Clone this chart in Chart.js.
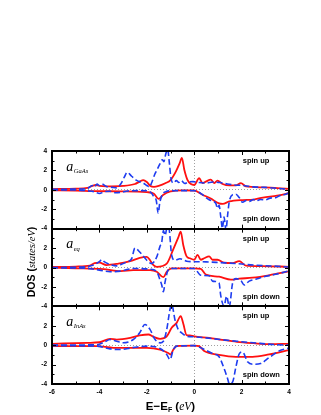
<!DOCTYPE html>
<html><head><meta charset="utf-8">
<script src="https://cdn.jsdelivr.net/npm/chart.js@4"></script>
<style>html,body{margin:0;padding:0;background:#fff}canvas{display:block}</style>
</head><body>
<canvas id="c" width="321" height="415"></canvas>
<script>
// ---------- data (energy in eV, DOS in states/eV) ----------
const xTickValues = [-6, -4, -2, 0, 2, 4];
const yTickValues = [-4, -2, 0, 2, 4];
const panelNames = ['GaAs', 'eq', 'InAs'];
const spinLabels = ['spin up', 'spin down'];

// panel 1: a_GaAs
const gaasBlueUpE = [-6,-5,-4.5,-4.3,-4.2,-4.1,-4,-3.9,-3.7,-3.45,-3.27,-3.1,-2.95,-2.83,-2.64,-2.43,-2.15,-2,-1.88,-1.8,-1.68,-1.58,-1.44,-1.35,-1.28,-1.2,-1.12,-1.05,-0.98,-0.88,-0.75,-0.65,-0.55,-0.4,-0.25,-0.05,0.2,0.5,0.8,1.1,1.4,1.7,2.05,2.5,3,3.5,4];
const gaasBlueUpV = [0.05,0.08,0.15,0.45,0.3,0.6,0.45,0.6,0.35,0.25,0.2,0.6,1.3,1.8,1.4,0.97,0.7,0.45,0.3,0.7,1.5,2.0,2.7,3.1,2.9,3.7,4.2,2.8,1.2,0.7,0.95,0.75,0.95,0.65,0.8,0.85,0.75,0.7,0.8,0.75,0.6,0.5,0.45,0.3,0.25,0.15,0.05];
const gaasBlueDnE = [-6,-5,-4.5,-4.2,-4,-3.8,-3.55,-3.3,-3.1,-2.8,-2.3,-2,-1.8,-1.68,-1.6,-1.52,-1.45,-1.35,-1.2,-1,-0.5,0,0.2,0.35,0.63,0.91,0.98,1.05,1.12,1.19,1.26,1.34,1.41,1.48,1.62,1.76,1.9,2.04,2.2,2.32,2.5,2.6,2.8,3,3.2,3.44,3.6,3.87,4];
const gaasBlueDnV = [0,-0.02,-0.1,-0.2,-0.38,-0.2,-0.15,-0.3,-0.25,-0.12,-0.08,-0.1,-0.35,-0.8,-1.1,-2.4,-1.3,-0.5,-0.2,-0.1,-0.08,-0.1,-0.25,-0.5,-1.03,-1.38,-1.9,-1.6,-2.76,-3.96,-2.8,-4.15,-2.6,-1.2,-0.5,-0.45,-0.8,-1.28,-1.1,-1.2,-1.0,-1.15,-1.0,-1.03,-0.85,-0.8,-0.6,-0.45,-0.3];
const gaasRedUpE = [-6,-5,-4.5,-4.3,-4.15,-4,-3.7,-3,-2.5,-2.3,-2.15,-2,-1.85,-1.7,-1.5,-1.2,-1,-0.77,-0.62,-0.52,-0.42,-0.28,-0.14,0,0.21,0.35,0.49,0.7,0.84,0.98,1.2,1.48,1.76,1.97,2.18,2.9,4];
const gaasRedUpV = [0.08,0.12,0.2,0.4,0.5,0.4,0.35,0.4,0.6,0.85,1.0,0.8,0.4,0.3,0.4,0.7,1.0,1.9,2.7,3.3,2.1,1.0,0.6,0.5,1.2,0.7,0.85,1.05,0.7,0.95,0.6,0.45,0.45,0.7,0.35,0.25,0.1];
const gaasRedDnE = [-6,-5,-4.1,-3.1,-2,-1.7,-1.5,-1.3,-1,-0.5,0,0.35,0.7,1.05,1.2,1.48,2.04,2.5,2.9,3.5,4];
const gaasRedDnV = [-0.05,-0.08,-0.14,-0.15,-0.24,-0.4,-0.93,-0.5,-0.17,-0.05,-0.07,-0.5,-0.9,-1.4,-1.45,-1.2,-1.05,-1.0,-0.8,-0.6,-0.35];

// panel 2: a_eq
const eqBlueUpE = [-6,-5,-4.5,-4.25,-4,-3.9,-3.8,-3.55,-3.27,-3,-2.85,-2.64,-2.5,-2.3,-2,-1.8,-1.58,-1.44,-1.37,-1.3,-1.23,-1.16,-1.08,-0.95,-0.81,-0.6,-0.32,0,0.5,1.1,1.8,2.5,3.3,4];
const eqBlueUpV = [0,0.03,0.1,0.25,0.6,0.82,0.6,0.3,0.17,0.4,0.58,0.9,2.0,1.6,0.75,0.4,1.1,2.2,2.6,3.8,3.3,4.0,4.2,1.26,0.75,0.9,0.65,0.6,0.58,0.5,0.4,0.25,0.15,0.05];
const eqBlueDnE = [-6,-5,-4.5,-4,-3.55,-3.1,-2.57,-1.86,-1.58,-1.44,-1.37,-1.3,-1.23,-1.1,-0.9,0,0.28,0.63,0.77,1.05,1.12,1.26,1.37,1.48,1.62,1.76,1.97,2.11,2.32,2.6,3.02,3.44,4];
const eqBlueDnV = [-0.02,-0.05,-0.1,-0.27,-0.44,-0.37,-0.1,-0.17,-0.44,-1.3,-1.8,-2.5,-1.5,-0.27,-0.1,-0.1,-0.8,-0.85,-1.4,-1.6,-2.9,-3.95,-2.95,-4.05,-1.6,-1.15,-1.35,-1.8,-1.4,-1.2,-0.9,-0.7,-0.35];
const eqRedUpE = [-6,-5,-4.4,-4.2,-4,-3.7,-3.2,-2.7,-2.3,-2,-1.85,-1.72,-1.58,-1.16,-0.88,-0.67,-0.57,-0.46,-0.32,-0.18,0,0.14,0.28,0.42,0.63,0.77,0.98,1.26,1.62,1.9,2.18,2.88,4];
const eqRedUpV = [0.05,0.1,0.2,0.45,0.5,0.25,0.4,0.65,1.0,1.1,0.7,0.25,0.07,0.4,1.9,3.1,3.7,2.3,1.15,0.95,0.8,1.3,0.8,0.95,1.15,0.8,0.8,0.5,0.45,0.65,0.2,0.15,0.07];
const eqRedDnE = [-6,-5,-3.83,-3.1,-2.57,-1.86,-1.58,-1.3,-1.16,-0.95,0,0.28,0.49,1.05,1.55,1.9,2.46,3.16,4];
const eqRedDnV = [-0.03,-0.08,-0.17,-0.37,-0.27,-0.27,-0.44,-1.0,-0.45,-0.1,-0.1,-0.15,-0.72,-0.95,-1.25,-1.15,-1.05,-0.8,-0.4];

// panel 3: a_InAs
const inasBlueUpE = [-6,-4.1,-3.8,-3.55,-3.27,-3,-2.57,-2.3,-2.08,-1.86,-1.65,-1.44,-1.3,-1.16,-1.02,-0.95,-0.81,-0.67,-0.53,-0.32,0,0.5,1.1,1.8,2.5,3.34,4];
const inasBlueUpV = [0,0.05,0.3,0.58,0.4,0.25,0.58,1.27,2.13,1.6,0.58,0.24,0.4,1.6,3.7,4.2,2.6,1.6,1.27,0.93,0.86,0.75,0.58,0.4,0.25,0.07,0];
const inasBlueDnE = [-6,-4.1,-3.55,-3.1,-2.6,-2,-1.44,-1.16,-1.02,-0.88,-0.74,0,0.35,0.77,1.05,1.26,1.41,1.48,1.62,1.76,1.9,2.04,2.25,2.53,2.8,3.16,3.58,4];
const inasBlueDnV = [-0.05,-0.1,-0.38,-0.45,-0.25,-0.1,-0.35,-0.95,-1.48,-0.45,-0.1,-0.05,-0.35,-0.86,-1.2,-2.4,-3.45,-3.97,-3.8,-2.24,-0.9,-0.7,-1.7,-1.97,-1.9,-1.28,-0.6,-0.3];
const inasRedUpE = [-6,-4.5,-4,-3.55,-3.27,-2.7,-2.3,-1.93,-1.72,-1.44,-1.16,-0.95,-0.74,-0.57,-0.46,-0.32,-0.18,0,0.63,1.1,1.8,2.5,3.2,4];
const inasRedUpV = [0.14,0.24,0.3,0.65,0.58,0.75,1.0,1.1,0.86,0.65,0.9,1.8,2.3,3.0,2.2,1.03,1.0,0.9,0.75,0.58,0.34,0.2,0.1,0.14];
const inasRedDnE = [-6,-4.1,-3.4,-2,-1.44,-1.1,-1,-0.88,-0.74,0,0.21,0.42,1.05,1.76,2.46,3.16,4];
const inasRedDnV = [-0.1,-0.1,-0.27,-0.27,-0.45,-0.8,-0.96,-0.45,-0.1,-0.05,-0.1,-0.6,-1.0,-1.2,-1.2,-0.95,-0.5];

// ---------- build ----------
const BLUE = '#1e3cf0', RED = '#ff1010';
const pts = (E, V) => E.map((e, i) => ({x: e, y: V[i]}));
const axisIds = ['yTop', 'yMid', 'yBot'];
const series = [
  [gaasBlueUpE, gaasBlueUpV, 'blue', 0], [gaasBlueDnE, gaasBlueDnV, 'blue', 0],
  [gaasRedUpE, gaasRedUpV, 'red', 0], [gaasRedDnE, gaasRedDnV, 'red', 0],
  [eqBlueUpE, eqBlueUpV, 'blue', 1], [eqBlueDnE, eqBlueDnV, 'blue', 1],
  [eqRedUpE, eqRedUpV, 'red', 1], [eqRedDnE, eqRedDnV, 'red', 1],
  [inasBlueUpE, inasBlueUpV, 'blue', 2], [inasBlueDnE, inasBlueDnV, 'blue', 2],
  [inasRedUpE, inasRedUpV, 'red', 2], [inasRedDnE, inasRedDnV, 'red', 2]
];
const datasets = series.map(([E, V, col, p]) => ({
  data: pts(E, V),
  yAxisID: axisIds[p],
  borderColor: col === 'blue' ? BLUE : RED,
  borderWidth: col === 'blue' ? 1.6 : 1.8,
  borderDash: col === 'blue' ? [6, 3] : [],
  pointRadius: 0,
  cubicInterpolationMode: 'monotone',
  fill: false
}));

const tickFont = {family: 'Liberation Sans, Arial, sans-serif', size: 6.5, weight: 'bold'};
const fmt = v => (v < 0 ? '-' : '') + Math.abs(v);

function yAxis(idx) {
  return {
    type: 'linear', position: 'left', stack: 'dos', stackWeight: 1,
    min: -4, max: 4,
    afterBuildTicks: s => { s.ticks = yTickValues.map(v => ({value: v})); },
    afterFit: s => { s.width = 52; },
    ticks: {
      font: tickFont, color: '#000', padding: 5,
      callback: v => (idx > 0 && v === 4) ? '' : fmt(v)
    },
    grid: {
      drawTicks: false, lineWidth: 1,
      color: c => (c.tick && c.tick.value === 0) ? '#a0a0a0' : 'rgba(0,0,0,0)'
    },
    border: {display: false, dash: [1, 2]}
  };
}

const framePlugin = {
  id: 'frame',
  afterDatasetsDraw(chart) {
    const ctx = chart.ctx, xs = chart.scales.x, ca = chart.chartArea;
    ctx.save();
    ctx.strokeStyle = '#000';
    axisIds.forEach(id => {
      const s = chart.scales[id];
      const top = s.getPixelForValue(4), bot = s.getPixelForValue(-4);
      ctx.lineWidth = 1;
      for (let v = -4; v <= 4; v++) {
        const py = Math.round(s.getPixelForValue(v)) + 0.5;
        const len = v % 2 === 0 ? 4 : 2.5;
        ctx.beginPath();
        ctx.moveTo(ca.left, py); ctx.lineTo(ca.left + len, py);
        ctx.moveTo(ca.right, py); ctx.lineTo(ca.right - len, py);
        ctx.stroke();
      }
      for (let e = -6; e <= 4; e++) {
        const px = Math.round(xs.getPixelForValue(e)) + 0.5;
        const len = e % 2 === 0 ? 4 : 2.5;
        ctx.beginPath();
        ctx.moveTo(px, top); ctx.lineTo(px, top + len);
        ctx.moveTo(px, bot); ctx.lineTo(px, bot - len);
        ctx.stroke();
      }
      ctx.lineWidth = 2;
      ctx.strokeRect(ca.left, Math.round(top), ca.right - ca.left, Math.round(bot) - Math.round(top));
    });
    ctx.restore();
  },
  afterDraw(chart) {
    const ctx = chart.ctx, xs = chart.scales.x, ca = chart.chartArea;
    ctx.save();
    ctx.fillStyle = '#000';
    ctx.textBaseline = 'alphabetic';
    axisIds.forEach((id, i) => {
      const s = chart.scales[id];
      const top = s.getPixelForValue(4);
      ctx.textAlign = 'left';
      ctx.font = 'italic 14px "Liberation Serif", serif';
      const ax = xs.getPixelForValue(-5.4);
      ctx.fillText('a', ax, top + 19.5);
      const aw = ctx.measureText('a').width;
      ctx.font = 'italic 6.5px "Liberation Serif", serif';
      ctx.fillText(panelNames[i], ax + aw + 0.5, top + 22);
      ctx.font = 'bold 7.5px "Liberation Sans", Arial, sans-serif';
      const sx = xs.getPixelForValue(2.05);
      ctx.fillText(spinLabels[0], sx, s.getPixelForValue(2.75));
      ctx.fillText(spinLabels[1], sx, s.getPixelForValue(-3.25));
    });
    ctx.save();
    ctx.translate(35, 262);
    ctx.rotate(-Math.PI / 2);
    const parts = [
      ['DOS (', 'bold 10.5px "Liberation Sans", Arial, sans-serif'],
      ['states/eV', 'italic 10.5px "Liberation Serif", serif'],
      [')', 'bold 10.5px "Liberation Sans", Arial, sans-serif']
    ];
    let total = 0;
    parts.forEach(([t, f]) => { ctx.font = f; total += ctx.measureText(t).width; });
    let px = -total / 2;
    ctx.textAlign = 'left';
    parts.forEach(([t, f]) => { ctx.font = f; ctx.fillText(t, px, 0); px += ctx.measureText(t).width; });
    ctx.restore();
    const xparts = [
      ['E\u2212E', 'bold 11.5px "Liberation Sans", Arial, sans-serif', 0],
      ['F', 'bold 7px "Liberation Sans", Arial, sans-serif', 2],
      [' (', 'bold 11.5px "Liberation Sans", Arial, sans-serif', 0],
      ['eV', 'italic 11.5px "Liberation Serif", serif', 0],
      [')', 'bold 11.5px "Liberation Sans", Arial, sans-serif', 0]
    ];
    let xt = 0;
    xparts.forEach(([t, f]) => { ctx.font = f; xt += ctx.measureText(t).width; });
    let qx = (ca.left + ca.right) / 2 - xt / 2;
    ctx.textAlign = 'left';
    xparts.forEach(([t, f, dy]) => { ctx.font = f; ctx.fillText(t, qx, 409.5 + dy); qx += ctx.measureText(t).width; });
    ctx.restore();
  }
};

new Chart(document.getElementById('c'), {
  type: 'line',
  data: {datasets},
  options: {
    responsive: false, animation: false, devicePixelRatio: 1,
    layout: {padding: {top: 151, right: 32, left: 0, bottom: 0}},
    plugins: {legend: {display: false}, tooltip: {enabled: false}},
    scales: {
      x: {
        type: 'linear', position: 'bottom', min: -6, max: 4,
        afterBuildTicks: s => { s.ticks = xTickValues.map(v => ({value: v})); },
        afterFit: s => { s.height = 31; },
        ticks: {font: tickFont, color: '#000', padding: 4, callback: v => fmt(v)},
        grid: {drawTicks: false, lineWidth: 1,
          color: c => (c.tick && c.tick.value === 0) ? '#a0a0a0' : 'rgba(0,0,0,0)'},
        border: {display: false, dash: [1, 2]}
      },
      yBot: yAxis(2),
      yMid: yAxis(1),
      yTop: yAxis(0)
    }
  },
  plugins: [framePlugin]
});
</script></body></html>
